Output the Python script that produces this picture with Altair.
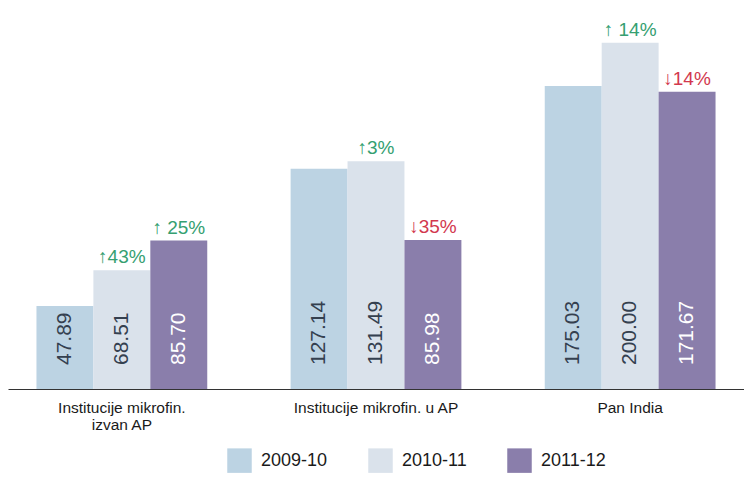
import altair as alt
import pandas as pd

groups = ["Institucije mikrofin. izvan AP", "Institucije mikrofin. u AP", "Pan India"]
years = ["2009-10", "2010-11", "2011-12"]
v_0910 = [47.89, 127.14, 175.03]
v_1011 = [68.51, 131.49, 200.00]
v_1112 = [85.70, 85.98, 171.67]
chg_1011 = ["↑43%", "↑3%", "↑ 14%"]
chg_1112 = ["↑ 25%", "↓35%", "↓14%"]
dir_1011 = ["up", "up", "up"]
dir_1112 = ["up", "down", "down"]
colors = ["#bcd3e3", "#dae2eb", "#8a7eab"]

rows = []
for i, g in enumerate(groups):
    rows.append({"group": g, "year": years[0], "value": v_0910[i], "change": None, "dir": None})
    rows.append({"group": g, "year": years[1], "value": v_1011[i], "change": chg_1011[i], "dir": dir_1011[i]})
    rows.append({"group": g, "year": years[2], "value": v_1112[i], "change": chg_1112[i], "dir": dir_1112[i]})
df = pd.DataFrame(rows)

font = "Liberation Sans, Arial, sans-serif"

base = alt.Chart(df).encode(
    x=alt.X(
        "group:N",
        sort=groups,
        scale=alt.Scale(paddingInner=0.328, paddingOuter=0.112),
        axis=alt.Axis(
            title=None, ticks=False, labelAngle=0, labelFontSize=15.5, labelColor="#1a1a1a",
            labelFont=font, labelPadding=11, labelLimit=0, domainColor="#333333",
            domainWidth=1.2, grid=False, labelLineHeight=17,
            labelExpr="datum.label == 'Institucije mikrofin. izvan AP' ? ['Institucije mikrofin.', 'izvan AP'] : datum.label",
        ),
    ),
    xOffset=alt.XOffset("year:N", sort=years, scale=alt.Scale(paddingInner=0, paddingOuter=0)),
)

bars = base.mark_bar(opacity=1).encode(
    y=alt.Y("value:Q", scale=alt.Scale(domain=[0, 220]), axis=None),
    color=alt.Color(
        "year:N",
        sort=years,
        scale=alt.Scale(domain=years, range=colors),
        legend=alt.Legend(
            title=None, orient="none", legendX=219, legendY=440, direction="horizontal",
            symbolType="square", symbolSize=600, symbolStrokeWidth=0, symbolOpacity=1,
            labelFontSize=18, labelFont=font, labelColor="#1a1a1a", labelOffset=9,
            columnPadding=40,
        ),
    ),
)

values = base.mark_text(angle=270, align="left", baseline="middle", dx=24, fontSize=21,
                        font=font).encode(
    y=alt.datum(0),
    text=alt.Text("value:Q", format=".2f"),
    color=alt.condition(alt.datum.year == "2011-12", alt.value("#ffffff"), alt.value("#34404f")),
)

changes = base.transform_filter("isValid(datum.change)").mark_text(
    baseline="bottom", dy=-3, fontSize=19, font=font
).encode(
    y="value:Q",
    text="change:N",
    color=alt.condition(alt.datum.dir == "up", alt.value("#35a071"), alt.value("#d2384e")),
)

chart = alt.layer(bars, values, changes).properties(
    width=736, height=381, padding=0
).configure_view(stroke=None)

chart.save("out.html", embed_options={"renderer": "svg", "actions": False})
